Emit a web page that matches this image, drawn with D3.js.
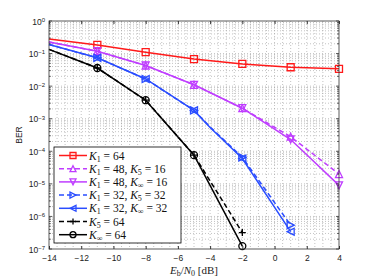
<!DOCTYPE html>
<html>
<head>
<meta charset="utf-8">
<script src="https://cdn.jsdelivr.net/npm/d3@7"></script>
<style>
  body { margin: 0; background: #fff; }
  svg text { font-family: "Liberation Sans", Arial, sans-serif; }
  .math { font-family: "Liberation Serif", "DejaVu Serif", serif; }
</style>
</head>
<body>
<div id="chart"></div>
<script>
var width = 374, height = 280;
var margin = {top: 21, right: 35, bottom: 31, left: 49};

// Eb/N0 (dB) per curve and BER values
var xK1     = [-14, -11, -8, -5, -2, 1, 4];
var xK48    = [-14, -11, -8, -5, -2, 1, 4];
var xK32    = [-14, -11, -8, -5, -4, -2, 1];
var xK64    = [-14, -11, -8, -5, -2];
var berK1_64       = [0.28, 0.184, 0.11, 0.068, 0.048, 0.038, 0.034];
var berK1_48_K5    = [0.227, 0.118, 0.043, 0.011, 0.0021, 2.8e-4, 2.0e-5];
var berK1_48_Kinf  = [0.227, 0.118, 0.043, 0.011, 0.0021, 2.3e-4, 9e-6];
var berK1_32_K5    = [0.19, 0.074, 0.0166, 0.0018, 5.6e-4, 6.5e-5, 5.4e-7];
var berK1_32_Kinf  = [0.19, 0.074, 0.0166, 0.0018, 5.4e-4, 6.0e-5, 3.4e-7];
var berK5_64       = [0.135, 0.036, 0.0037, 7.6e-5, 3.2e-7];
var berKinf_64     = [0.135, 0.036, 0.0037, 7.6e-5, 1.23e-7];
// points that carry markers
var xMarks = [-11, -8, -5, -2, 1, 4];

var series = [
  {label: [["K", "1", " = 64"]], x: xK1, y: berK1_64, color: "#ff1a1a", dash: null, marker: "square"},
  {label: [["K", "1", " = 48, "], ["K", "5", " = 16"]], x: xK48, y: berK1_48_K5, color: "#bf3dff", dash: "5,3", marker: "triUp"},
  {label: [["K", "1", " = 48, "], ["K", "∞", " = 16"]], x: xK48, y: berK1_48_Kinf, color: "#bf3dff", dash: null, marker: "triDown"},
  {label: [["K", "1", " = 32, "], ["K", "5", " = 32"]], x: xK32, y: berK1_32_K5, color: "#2a4dff", dash: "5,3", marker: "triRight"},
  {label: [["K", "1", " = 32, "], ["K", "∞", " = 32"]], x: xK32, y: berK1_32_Kinf, color: "#2a4dff", dash: null, marker: "triLeft"},
  {label: [["K", "5", " = 64"]], x: xK64, y: berK5_64, color: "#000000", dash: "5,3", marker: "plus"},
  {label: [["K", "∞", " = 64"]], x: xK64, y: berKinf_64, color: "#000000", dash: null, marker: "circle"}
];

var xTicks = [-14, -12, -10, -8, -6, -4, -2, 0, 2, 4];
var yExps = [0, -1, -2, -3, -4, -5, -6, -7];

var svg = d3.select("#chart").append("svg")
  .attr("width", width).attr("height", height);

var xScale = d3.scaleLinear().domain([-14, 4]).range([margin.left, width - margin.right]);
var yScale = d3.scaleLog().domain([1e-7, 1]).range([height - margin.bottom, margin.top]);

var x0 = margin.left, x1 = width - margin.right, y0 = margin.top, y1 = height - margin.bottom;

// grid (major + minor, dotted)
var grid = svg.append("g").attr("class", "grid")
  .attr("stroke", "#9a9a9a").attr("stroke-width", 0.6).attr("stroke-dasharray", "1,2");
d3.range(-13.5, 4, 0.5).forEach(function(v) {
  grid.append("line").attr("x1", xScale(v)).attr("x2", xScale(v)).attr("y1", y0).attr("y2", y1);
});
yExps.forEach(function(e) {
  d3.range(1, 10).forEach(function(m) {
    var v = m * Math.pow(10, e - 1);
    if (v <= 1e-7 || v >= 1) return;
    grid.append("line").attr("x1", x0).attr("x2", x1).attr("y1", yScale(v)).attr("y2", yScale(v));
  });
});

var line = d3.line()
  .x(function(d) { return xScale(d[0]); })
  .y(function(d) { return yScale(d[1]); });

function markerPath(type, s) {
  var h = s / 2;
  switch (type) {
    case "square": return "M" + (-h) + "," + (-h) + "h" + s + "v" + s + "h" + (-s) + "Z";
    case "triUp": return "M0," + (-h) + "L" + h + "," + h + "L" + (-h) + "," + h + "Z";
    case "triDown": return "M0," + h + "L" + h + "," + (-h) + "L" + (-h) + "," + (-h) + "Z";
    case "triRight": return "M" + h + ",0L" + (-h) + "," + (-h) + "L" + (-h) + "," + h + "Z";
    case "triLeft": return "M" + (-h) + ",0L" + h + "," + (-h) + "L" + h + "," + h + "Z";
    case "plus": return "M" + (-h) + ",0H" + h + "M0," + (-h) + "V" + h;
    case "circle": return "M" + h + ",0A" + h + "," + h + " 0 1,1 " + (-h) + ",0A" + h + "," + h + " 0 1,1 " + h + ",0Z";
  }
}

var plot = svg.append("g");
series.forEach(function(s) {
  var pts = s.x.map(function(x, i) { return [x, s.y[i]]; });
  plot.append("path")
    .datum(pts)
    .attr("d", line)
    .attr("fill", "none")
    .attr("stroke", s.color)
    .attr("stroke-width", 1.5)
    .attr("stroke-dasharray", s.dash);
  var marks = pts.filter(function(d) { return xMarks.indexOf(d[0]) >= 0; });
  plot.selectAll(null).data(marks).enter().append("path")
    .attr("transform", function(d) { return "translate(" + xScale(d[0]) + "," + yScale(d[1]) + ")"; })
    .attr("d", markerPath(s.marker, 7))
    .attr("fill", "none")
    .attr("stroke", s.color)
    .attr("stroke-width", 1.3);
});

// axes box
svg.append("rect")
  .attr("x", x0).attr("y", y0).attr("width", x1 - x0).attr("height", y1 - y0)
  .attr("fill", "none").attr("stroke", "#333").attr("stroke-width", 0.8);

// x ticks (inward, top and bottom)
var xAxis = d3.axisBottom(xScale).tickValues(xTicks).tickSize(-3)
  .tickFormat(function(d) { return d < 0 ? "\u2212" + Math.abs(d) : d; });
var gx = svg.append("g").attr("transform", "translate(0," + y1 + ")").call(xAxis);
gx.select(".domain").remove();
gx.selectAll("line").attr("stroke", "#333");
gx.selectAll("text").attr("font-size", "8.5px").attr("fill", "#222").attr("dy", "0.35em").attr("y", 9);
var gxt = svg.append("g").attr("transform", "translate(0," + y0 + ")")
  .call(d3.axisTop(xScale).tickValues(xTicks).tickSize(-3).tickFormat(""));
gxt.select(".domain").remove();
gxt.selectAll("line").attr("stroke", "#333");

// y ticks (log: major and minor, inward)
var yt = svg.append("g").attr("stroke", "#333").attr("stroke-width", 0.8);
yExps.forEach(function(e) {
  d3.range(1, 10).forEach(function(m) {
    var v = m * Math.pow(10, e);
    if (v < 1e-7 || v > 1) return;
    var len = m === 1 ? 3 : 1.8;
    yt.append("line").attr("x1", x0).attr("x2", x0 + len).attr("y1", yScale(v)).attr("y2", yScale(v));
    yt.append("line").attr("x1", x1).attr("x2", x1 - len).attr("y1", yScale(v)).attr("y2", yScale(v));
  });
});
var ylab = svg.append("g");
yExps.forEach(function(e) {
  var t = ylab.append("text")
    .attr("x", x0 - 4).attr("y", yScale(Math.pow(10, e)) + 3.5)
    .attr("text-anchor", "end").attr("font-size", "8.5px").attr("fill", "#222");
  t.append("tspan").text("10");
  t.append("tspan").attr("dy", "-0.45em").attr("font-size", "6px").text(e < 0 ? "\u2212" + Math.abs(e) : e);
});

// axis labels
svg.append("text")
  .attr("transform", "translate(22," + ((y0 + y1) / 2) + ") rotate(-90)")
  .attr("text-anchor", "middle").attr("font-size", "8.5px").attr("fill", "#222")
  .text("BER");

var xl = svg.append("text").attr("class", "math")
  .attr("x", (x0 + x1) / 2).attr("y", 274)
  .attr("text-anchor", "middle").attr("font-size", "11px").attr("fill", "#222");
xl.append("tspan").attr("font-style", "italic").text("E");
xl.append("tspan").attr("font-size", "8px").attr("dy", "2").text("b");
xl.append("tspan").attr("dy", "-2").text("/");
xl.append("tspan").attr("font-style", "italic").text("N");
xl.append("tspan").attr("font-size", "8px").attr("dy", "2").text("0");
xl.append("tspan").attr("dy", "-2").text(" [dB]");

// legend
var lg = svg.append("g").attr("transform", "translate(54,147)");
lg.append("rect").attr("width", 127).attr("height", 96)
  .attr("fill", "#fff").attr("stroke", "#000").attr("stroke-width", 0.8);
series.forEach(function(s, i) {
  var yy = 8.5 + i * 13.2;
  lg.append("line").attr("x1", 5).attr("x2", 33).attr("y1", yy).attr("y2", yy)
    .attr("stroke", s.color).attr("stroke-width", 1.5).attr("stroke-dasharray", s.dash);
  lg.append("path").attr("transform", "translate(19," + yy + ")")
    .attr("d", markerPath(s.marker, 6))
    .attr("fill", "none").attr("stroke", s.color).attr("stroke-width", 1.3);
  var t = lg.append("text").attr("class", "math")
    .attr("x", 35).attr("y", yy + 4).attr("font-size", "11.5px").attr("fill", "#111");
  s.label.forEach(function(p) {
    t.append("tspan").attr("font-style", "italic").text(p[0]);
    t.append("tspan").attr("font-size", "8px").attr("dy", "2").text(p[1]);
    t.append("tspan").attr("dy", "-2").text(p[2]);
  });
});
</script>
</body>
</html>
